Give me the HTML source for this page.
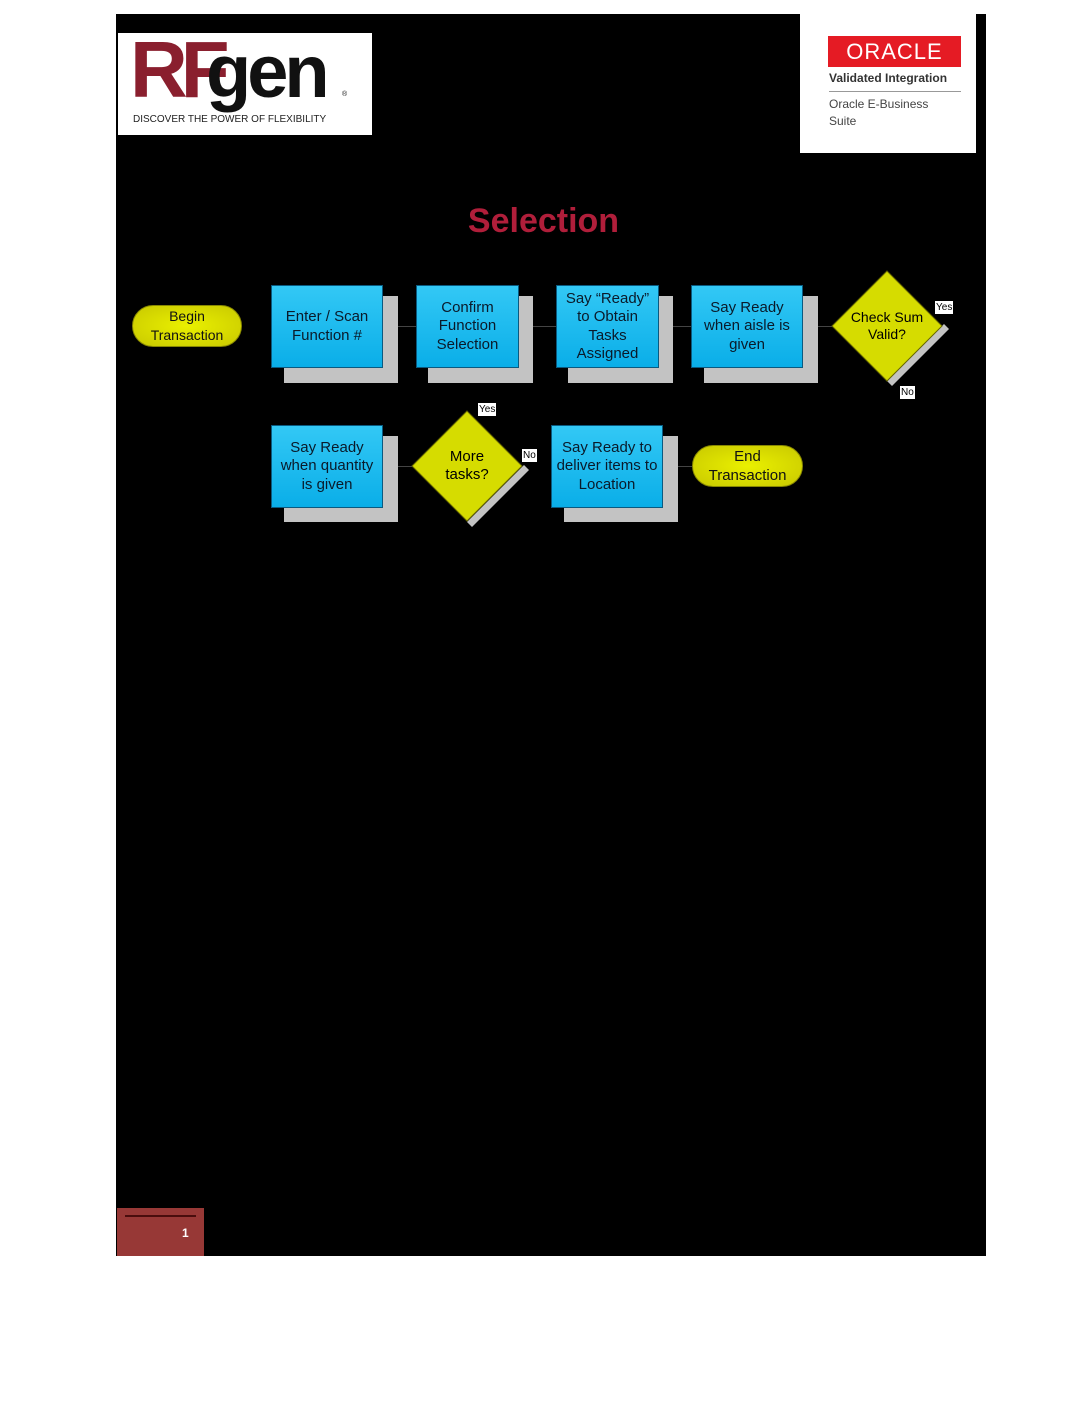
<!DOCTYPE html>
<html><head><meta charset="utf-8"><style>
body{margin:0;width:1088px;height:1408px;background:#fff;position:relative;font-family:"Liberation Sans",sans-serif;overflow:hidden}
.a{position:absolute}
.sh{position:absolute;background:#c3c3c3}
.bx{position:absolute;background:linear-gradient(#33c8f5,#0aaee8);border:1px solid #0a5a80;color:#0a1a2a;font-size:15px;line-height:18.5px;text-align:center;display:flex;align-items:center;justify-content:center;box-sizing:border-box}
.ov{position:absolute;background:radial-gradient(#eaf000,#c8c800);border:1px solid #888800;border-radius:22px;color:#111;font-size:14px;line-height:19px;text-align:center;display:flex;align-items:center;justify-content:center;box-sizing:border-box}
.ln{position:absolute;background:#444;height:1px}
.lab{position:absolute;background:#fff;font-size:10px;color:#000;padding:0 1px;line-height:13px}
</style></head><body>
<div class="a" style="left:116px;top:14px;width:870px;height:1242px;background:#000"></div>
<!-- RFgen logo -->
<div class="a" style="left:118px;top:33px;width:254px;height:102px;background:#fff"></div>
<div class="a" style="left:130px;top:30px;font:bold 80px 'Liberation Sans',sans-serif;letter-spacing:-7px;color:#8a1f2e;line-height:80px">RF</div>
<div class="a" style="left:206px;top:36px;font:bold 74px 'Liberation Sans',sans-serif;letter-spacing:-4px;color:#111;line-height:72px">gen</div>
<div class="a" style="left:342px;top:91px;font-size:7px;color:#111">®</div>
<div class="a" style="left:133px;top:114px;font-size:10px;color:#222">DISCOVER THE POWER OF FLEXIBILITY</div>
<!-- Oracle -->
<div class="a" style="left:800px;top:14px;width:176px;height:139px;background:#fff"></div>
<div class="a" style="left:828px;top:36px;width:133px;height:31px;background:#e51b24;color:#fff;font-size:22px;line-height:31px;text-align:center;letter-spacing:1px">ORACLE</div>
<div class="a" style="left:829px;top:71px;font-size:12px;font-weight:bold;color:#333">Validated Integration</div>
<div class="a" style="left:829px;top:91px;width:132px;height:1px;background:#999"></div>
<div class="a" style="left:829px;top:96px;font-size:12px;color:#444;line-height:17px">Oracle E-Business<br>Suite</div>
<div class="a" style="left:116px;top:202px;width:855px;text-align:center;font-size:34px;font-weight:bold;color:#b01e3a">Selection</div>
<!-- connectors -->
<div class="ln" style="left:382px;top:326px;width:34px"></div>
<div class="ln" style="left:518px;top:326px;width:38px"></div>
<div class="ln" style="left:658px;top:326px;width:33px"></div>
<div class="ln" style="left:802px;top:326px;width:32px"></div>
<div class="ln" style="left:382px;top:466px;width:32px"></div>
<div class="ln" style="left:662px;top:466px;width:30px"></div>
<div class="a" style="left:606px;top:375px;width:1px;height:8px;background:#333"></div>
<div class="a" style="left:602px;top:368px;width:0;height:0;border-left:4px solid transparent;border-right:4px solid transparent;border-bottom:8px solid #111"></div>
<!-- shadows -->
<div class="sh" style="left:284px;top:296px;width:114px;height:87px"></div>
<div class="sh" style="left:428px;top:296px;width:105px;height:87px"></div>
<div class="sh" style="left:568px;top:296px;width:105px;height:87px"></div>
<div class="sh" style="left:704px;top:296px;width:114px;height:87px"></div>
<div class="sh" style="left:284px;top:436px;width:114px;height:86px"></div>
<div class="sh" style="left:564px;top:436px;width:114px;height:86px"></div>
<!-- boxes -->
<div class="ov" style="left:132px;top:305px;width:110px;height:42px">Begin<br>Transaction</div>
<div class="bx" style="left:271px;top:285px;width:112px;height:83px">Enter / Scan<br>Function #</div>
<div class="bx" style="left:416px;top:285px;width:103px;height:83px">Confirm<br>Function<br>Selection</div>
<div class="bx" style="left:556px;top:285px;width:103px;height:83px">Say “Ready”<br>to Obtain<br>Tasks<br>Assigned</div>
<div class="bx" style="left:691px;top:285px;width:112px;height:83px">Say Ready<br>when aisle is<br>given</div>
<div class="bx" style="left:271px;top:425px;width:112px;height:83px">Say Ready<br>when quantity<br>is given</div>
<div class="bx" style="left:551px;top:425px;width:112px;height:83px">Say Ready to<br>deliver items to<br>Location</div>
<div class="ov" style="left:692px;top:445px;width:111px;height:42px;font-size:15px">End<br>Transaction</div>
<!-- diamonds -->
<svg class="a" style="left:0;top:0" width="1088" height="600">
<polygon points="892,386 949,329 944,324 887,381" fill="#c3c3c3"/>
<polygon points="887,271 942,326 887,381 832,326" fill="#d6dc00" stroke="#666600"/>
<polygon points="472,527 529,470 524,465 467,522" fill="#c3c3c3"/>
<polygon points="467,411 522,466 467,521 412,466" fill="#d6dc00" stroke="#666600"/>
</svg>
<div class="a" style="left:832px;top:309px;width:110px;text-align:center;font-size:14px;line-height:17px">Check Sum<br>Valid?</div>
<div class="a" style="left:412px;top:448px;width:110px;text-align:center;font-size:15px;line-height:18px">More<br>tasks?</div>
<div class="lab" style="left:935px;top:301px">Yes</div>
<div class="lab" style="left:900px;top:386px">No</div>
<div class="lab" style="left:478px;top:403px">Yes</div>
<div class="lab" style="left:522px;top:449px">No</div>
<!-- footer -->
<div class="a" style="left:117px;top:1208px;width:87px;height:48px;background:#973836"></div>
<div class="a" style="left:125px;top:1215px;width:71px;height:2px;background:#4a0d0d"></div>
<div class="a" style="left:182px;top:1226px;font-size:12px;font-weight:bold;color:#fff">1</div>
</body></html>
